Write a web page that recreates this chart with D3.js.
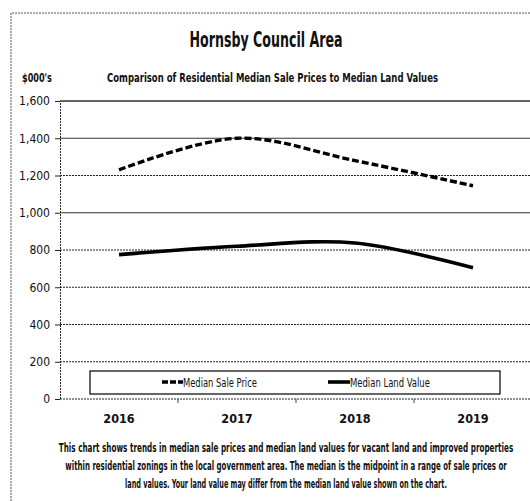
<!DOCTYPE html>
<html>
<head>
<meta charset="utf-8">
<script src="https://cdn.jsdelivr.net/npm/d3@7"></script>
<style>
  body { margin: 0; background: #fff; }
  svg { display: block; }
  text { font-family: "Liberation Sans Narrow", "DejaVu Sans Condensed", "Roboto Condensed", sans-serif; fill: #111; }
</style>
</head>
<body>
<div id="chart"></div>
<script>
// Chart data ($000's)
var years = ["2016", "2017", "2018", "2019"];
var salePrice = [1230, 1400, 1280, 1145];
var landValue = [775, 820, 838, 705];
var yTicks = [0, 200, 400, 600, 800, 1000, 1200, 1400, 1600];
var seriesNames = ["Median Sale Price", "Median Land Value"];
var footnote = [
    "This chart shows trends in median sale prices and median land values for vacant land and improved  properties",
    "within residential zonings in the local government area.  The median is the midpoint in a range of sale prices or",
    "land values.  Your  land value may differ from the median land value shown on the chart."
];

var width = 530, height = 501;
var plot = { left: 60, right: 532, top: 101, bottom: 399 };

var svg = d3.select("#chart").append("svg")
    .attr("width", width)
    .attr("height", height);

/**
 * Squeeze a text horizontally to the given width (the scan font is very narrow)
 */
function fitWidth(sel, target) {
    sel.each(function() {
        var t = d3.select(this);
        var w = this.getComputedTextLength();
        var tw = typeof target === "function" ? target.apply(this, arguments) : target;
        var s = Math.min(1, tw / w);
        var x0 = +t.attr("x");
        t.attr("transform", "translate(" + x0 + ",0) scale(" + s + ",1) translate(" + (-x0) + ",0)");
    });
}

// Outer dashed frame (scan edge)
svg.append("path")
    .attr("d", "M11,501 L11,13 L530,13")
    .attr("fill", "none")
    .attr("stroke", "#555")
    .attr("stroke-width", 1)
    .attr("stroke-dasharray", "2,1");

// Titles
svg.append("text")
    .attr("x", 266).attr("y", 47)
    .attr("text-anchor", "middle")
    .attr("font-size", 21).attr("font-weight", "bold")
    .text("Hornsby Council Area")
    .call(fitWidth, 153);

svg.append("text")
    .attr("x", 107).attr("y", 82)
    .attr("font-size", 13).attr("font-weight", "bold")
    .text("Comparison of Residential Median Sale Prices to Median Land Values")
    .call(fitWidth, 331);

svg.append("text")
    .attr("x", 22).attr("y", 82)
    .attr("font-size", 12).attr("font-weight", "bold")
    .text("$000's")
    .call(fitWidth, 30);

// Scales
var x = d3.scaleBand()
    .domain(years)
    .range([plot.left, plot.right]);

var y = d3.scaleLinear()
    .domain([0, 1600])
    .range([plot.bottom, plot.top]);

// Gridlines (scan makes some look solid, most dotted)
var solidLines = [1600, 1400, 1000];
svg.append("g")
    .selectAll("line")
    .data(yTicks)
    .enter().append("line")
    .attr("x1", plot.left).attr("x2", width)
    .attr("y1", function(d) { return y(d); })
    .attr("y2", function(d) { return y(d); })
    .attr("stroke", function(d) { return solidLines.indexOf(d) > -1 ? "#333" : "#222"; })
    .attr("stroke-width", function(d) { return d == 1600 ? 1.3 : 1; })
    .attr("stroke-dasharray", function(d) { return solidLines.indexOf(d) > -1 ? null : "2,1"; });

// Y axis
var yAxis = svg.append("g")
    .attr("transform", "translate(" + plot.left + ",0)")
    .call(d3.axisLeft(y).tickValues(yTicks).tickSize(5).tickPadding(5).tickFormat(d3.format(",")));
yAxis.select(".domain").attr("stroke", "#222").attr("stroke-dasharray", "2,1");
yAxis.selectAll(".tick line").attr("stroke", "#222");
yAxis.selectAll("text")
    .attr("font-size", 12)
    .attr("font-family", "\"Liberation Sans Narrow\", \"DejaVu Sans Condensed\", sans-serif")
    .attr("fill", "#111");

// X axis labels
var xAxis = svg.append("g")
    .attr("transform", "translate(0," + plot.bottom + ")")
    .call(d3.axisBottom(x).tickSize(0).tickPadding(15));
xAxis.select(".domain").remove();
xAxis.selectAll("text")
    .attr("font-size", 12.5).attr("font-weight", "bold")
    .attr("font-family", "\"Liberation Sans Narrow\", \"DejaVu Sans Condensed\", sans-serif")
    .attr("fill", "#111");

// small category separators below the zero line
svg.append("g")
    .selectAll("line")
    .data(years.slice(1))
    .enter().append("line")
    .attr("x1", function(d) { return x(d); })
    .attr("x2", function(d) { return x(d); })
    .attr("y1", plot.bottom).attr("y2", plot.bottom + 4)
    .attr("stroke", "#444");

// Lines (smoothed, like the spreadsheet chart)
var line = d3.line()
    .x(function(d, i) { return x(years[i]) + x.bandwidth() / 2; })
    .y(function(d) { return y(d); })
    .curve(d3.curveCatmullRom.alpha(0.5));

svg.append("path")
    .datum(salePrice)
    .attr("d", line)
    .attr("fill", "none")
    .attr("stroke", "#000")
    .attr("stroke-width", 3.4)
    .attr("stroke-dasharray", "7,3");

svg.append("path")
    .datum(landValue)
    .attr("d", line)
    .attr("fill", "none")
    .attr("stroke", "#000")
    .attr("stroke-width", 3.6);

// Legend
var legend = svg.append("g");
legend.append("rect")
    .attr("x", 90).attr("y", 371)
    .attr("width", 410).attr("height", 23)
    .attr("fill", "#fff")
    .attr("stroke", "#000")
    .attr("stroke-width", 1.2);

legend.append("line")
    .attr("x1", 162).attr("x2", 183)
    .attr("y1", 382).attr("y2", 382)
    .attr("stroke", "#000").attr("stroke-width", 3.4)
    .attr("stroke-dasharray", "6,2");
legend.append("text")
    .attr("x", 183).attr("y", 387)
    .attr("font-size", 12.5)
    .text(seriesNames[0])
    .call(fitWidth, 74);

legend.append("line")
    .attr("x1", 328).attr("x2", 350)
    .attr("y1", 382).attr("y2", 382)
    .attr("stroke", "#000").attr("stroke-width", 3.6);
legend.append("text")
    .attr("x", 350).attr("y", 387)
    .attr("font-size", 12.5)
    .text(seriesNames[1])
    .call(fitWidth, 80);

// Footnote
var footWidths = [455, 442, 322];
svg.append("g")
    .selectAll("text")
    .data(footnote)
    .enter().append("text")
    .attr("x", 286)
    .attr("y", function(d, i) { return 452 + i * 18; })
    .attr("text-anchor", "middle")
    .attr("font-size", 12.5).attr("font-weight", "bold")
    .text(function(d) { return d; })
    .call(fitWidth, function(d, i) { return footWidths[i]; });
</script>
</body>
</html>
